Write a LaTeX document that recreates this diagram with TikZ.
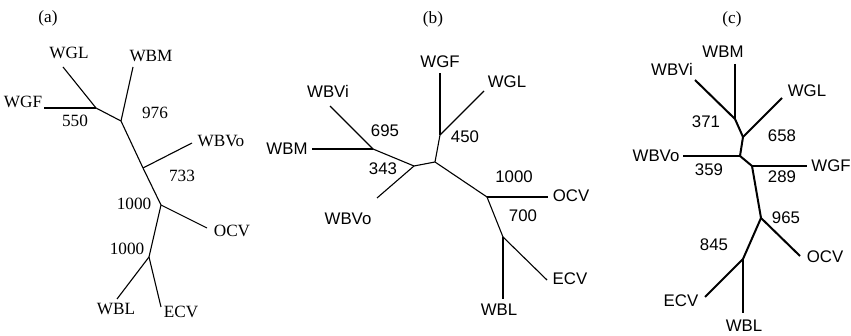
\documentclass[tikz,border=0pt]{standalone}
\usepackage{fontspec}
\setmainfont{Liberation Serif}
\newfontfamily\arialfont{Liberation Sans}
\begin{document}
\begin{tikzpicture}[x=1pt,y=-1pt,
  seriflbl/.style={anchor=base,inner sep=0pt,font=\fontsize{17.2}{19}\selectfont},
  sanslbl/.style={anchor=base,inner sep=0pt,font=\arialfont\fontsize{16.8}{19}\selectfont},
  tbranch/.style={line width=1.1pt},
  kbranch/.style={line width=2.6pt},
  mbranch/.style={line width=2pt}]
\useasboundingbox (0,0) rectangle (851,336);

% ---------------- tree (a) ----------------
\node[seriflbl] (a-title) at (48,23) {(a)};
\coordinate (a-n1) at (96,108);
\coordinate (a-n2) at (121,121);
\coordinate (a-n3) at (143,168);
\coordinate (a-n4) at (161,205);
\coordinate (a-n5) at (149,257);
\coordinate (a-wgl) at (63,67);
\coordinate (a-wgf) at (44,108);
\coordinate (a-wbm) at (133,67);
\coordinate (a-wbvo) at (192,143);
\coordinate (a-ocv) at (207,228);
\coordinate (a-wbl) at (117,299);
\coordinate (a-ecv) at (161,307);
\draw[tbranch] (a-wgl) -- (a-n1);
\draw[kbranch] (a-wgf) -- (a-n1);
\draw[tbranch] (a-n1) -- (a-n2);
\draw[tbranch] (a-wbm) -- (a-n2);
\draw[tbranch] (a-n2) -- (a-n3);
\draw[tbranch] (a-n3) -- (a-wbvo);
\draw[tbranch] (a-n3) -- (a-n4);
\draw[tbranch] (a-n4) -- (a-ocv);
\draw[tbranch] (a-n4) -- (a-n5);
\draw[tbranch] (a-n5) -- (a-wbl);
\draw[tbranch] (a-n5) -- (a-ecv);
\node[seriflbl] (a-lwgl) at (69,59) {WGL};
\node[seriflbl] (a-lwbm) at (151,62) {WBM};
\node[seriflbl] (a-lwgf) at (23,108) {WGF};
\node[seriflbl] (a-b550) at (75,127) {550};
\node[seriflbl] (a-b976) at (155,119) {976};
\node[seriflbl] (a-lwbvo) at (221,147) {WBVo};
\node[seriflbl] (a-b733) at (182,182) {733};
\node[seriflbl] (a-b1000u) at (134,210) {1000};
\node[seriflbl] (a-locv) at (232,237) {OCV};
\node[seriflbl] (a-b1000l) at (127,255) {1000};
\node[seriflbl] (a-lwbl) at (116,315) {WBL};
\node[seriflbl] (a-lecv) at (181,318) {ECV};

% ---------------- tree (b) ----------------
\node[seriflbl] (b-title) at (433,24) {(b)};
\coordinate (b-j1) at (373,149);
\coordinate (b-j2) at (414,166);
\coordinate (b-c) at (435,162);
\coordinate (b-j3) at (440,135);
\coordinate (b-j4) at (487,197);
\coordinate (b-j5) at (503,237);
\coordinate (b-wbvi) at (330,106);
\coordinate (b-wbm) at (312,149);
\coordinate (b-wbvo) at (377,198);
\coordinate (b-wgf) at (440,73);
\coordinate (b-wgl) at (484,91);
\coordinate (b-ocv) at (548,197);
\coordinate (b-wbl) at (503,299);
\coordinate (b-ecv) at (547,280);
\draw[tbranch] (b-wbvi) -- (b-j1);
\draw[tbranch] (b-wbm) -- (b-j1);
\draw[tbranch] (b-j1) -- (b-j2);
\draw[tbranch] (b-j2) -- (b-wbvo);
\draw[tbranch] (b-j2) -- (b-c);
\draw[tbranch] (b-c) -- (b-j3);
\draw[kbranch] (b-j3) -- (b-wgf);
\draw[tbranch] (b-j3) -- (b-wgl);
\draw[tbranch] (b-c) -- (b-j4);
\draw[kbranch] (b-j4) -- (b-ocv);
\draw[tbranch] (b-j4) -- (b-j5);
\draw[kbranch] (b-j5) -- (b-wbl);
\draw[tbranch] (b-j5) -- (b-ecv);
\node[sanslbl] (b-lwgf) at (440,68) {WGF};
\node[sanslbl] (b-lwgl) at (507,88) {WGL};
\node[sanslbl] (b-lwbvi) at (328,98) {WBVi};
\node[sanslbl] (b-b695) at (385,137) {695};
\node[sanslbl] (b-lwbm) at (287,155) {WBM};
\node[sanslbl] (b-b343) at (383,175) {343};
\node[sanslbl] (b-b450) at (465,143) {450};
\node[sanslbl] (b-lwbvo) at (348,225) {WBVo};
\node[sanslbl] (b-b1000) at (514,183) {1000};
\node[sanslbl] (b-locv) at (571,202) {OCV};
\node[sanslbl] (b-b700) at (523,222) {700};
\node[sanslbl] (b-lecv) at (570,285) {ECV};
\node[sanslbl] (b-lwbl) at (499,316) {WBL};

% ---------------- tree (c) ----------------
\node[seriflbl] (c-title) at (732,24) {(c)};
\coordinate (c-k1) at (735,119);
\coordinate (c-k2) at (743,137);
\coordinate (c-k3) at (740,156);
\coordinate (c-k4) at (752,166);
\coordinate (c-k5) at (761,218);
\coordinate (c-k6) at (743,259);
\coordinate (c-wbvi) at (695,80);
\coordinate (c-wbm) at (735,64);
\coordinate (c-wgl) at (782,98);
\coordinate (c-wbvo) at (683,156);
\coordinate (c-wgf) at (807,166);
\coordinate (c-ocv) at (800,256);
\coordinate (c-ecv) at (705,297);
\coordinate (c-wbl) at (743,313);
\draw[mbranch] (c-wbvi) -- (c-k1);
\draw[mbranch] (c-wbm) -- (c-k1);
\draw[mbranch] (c-k1) -- (c-k2);
\draw[mbranch] (c-k2) -- (c-wgl);
\draw[mbranch] (c-k2) -- (c-k3);
\draw[mbranch] (c-wbvo) -- (c-k3);
\draw[mbranch] (c-k3) -- (c-k4);
\draw[mbranch] (c-k4) -- (c-wgf);
\draw[mbranch] (c-k4) -- (c-k5);
\draw[mbranch] (c-k5) -- (c-ocv);
\draw[mbranch] (c-k5) -- (c-k6);
\draw[mbranch] (c-k6) -- (c-ecv);
\draw[mbranch] (c-k6) -- (c-wbl);
\node[sanslbl] (c-lwbm) at (723,58) {WBM};
\node[sanslbl] (c-lwbvi) at (672,76) {WBVi};
\node[sanslbl] (c-lwgl) at (807,97) {WGL};
\node[sanslbl] (c-b371) at (706,128) {371};
\node[sanslbl] (c-b658) at (782,142) {658};
\node[sanslbl] (c-lwbvo) at (656,162) {WBVo};
\node[sanslbl] (c-b359) at (709,176) {359};
\node[sanslbl] (c-lwgf) at (831,172) {WGF};
\node[sanslbl] (c-b289) at (782,183) {289};
\node[sanslbl] (c-b965) at (786,224) {965};
\node[sanslbl] (c-locv) at (825,263) {OCV};
\node[sanslbl] (c-b845) at (714,251) {845};
\node[sanslbl] (c-lecv) at (681,307) {ECV};
\node[sanslbl] (c-lwbl) at (744,332) {WBL};
\end{tikzpicture}
\end{document}
